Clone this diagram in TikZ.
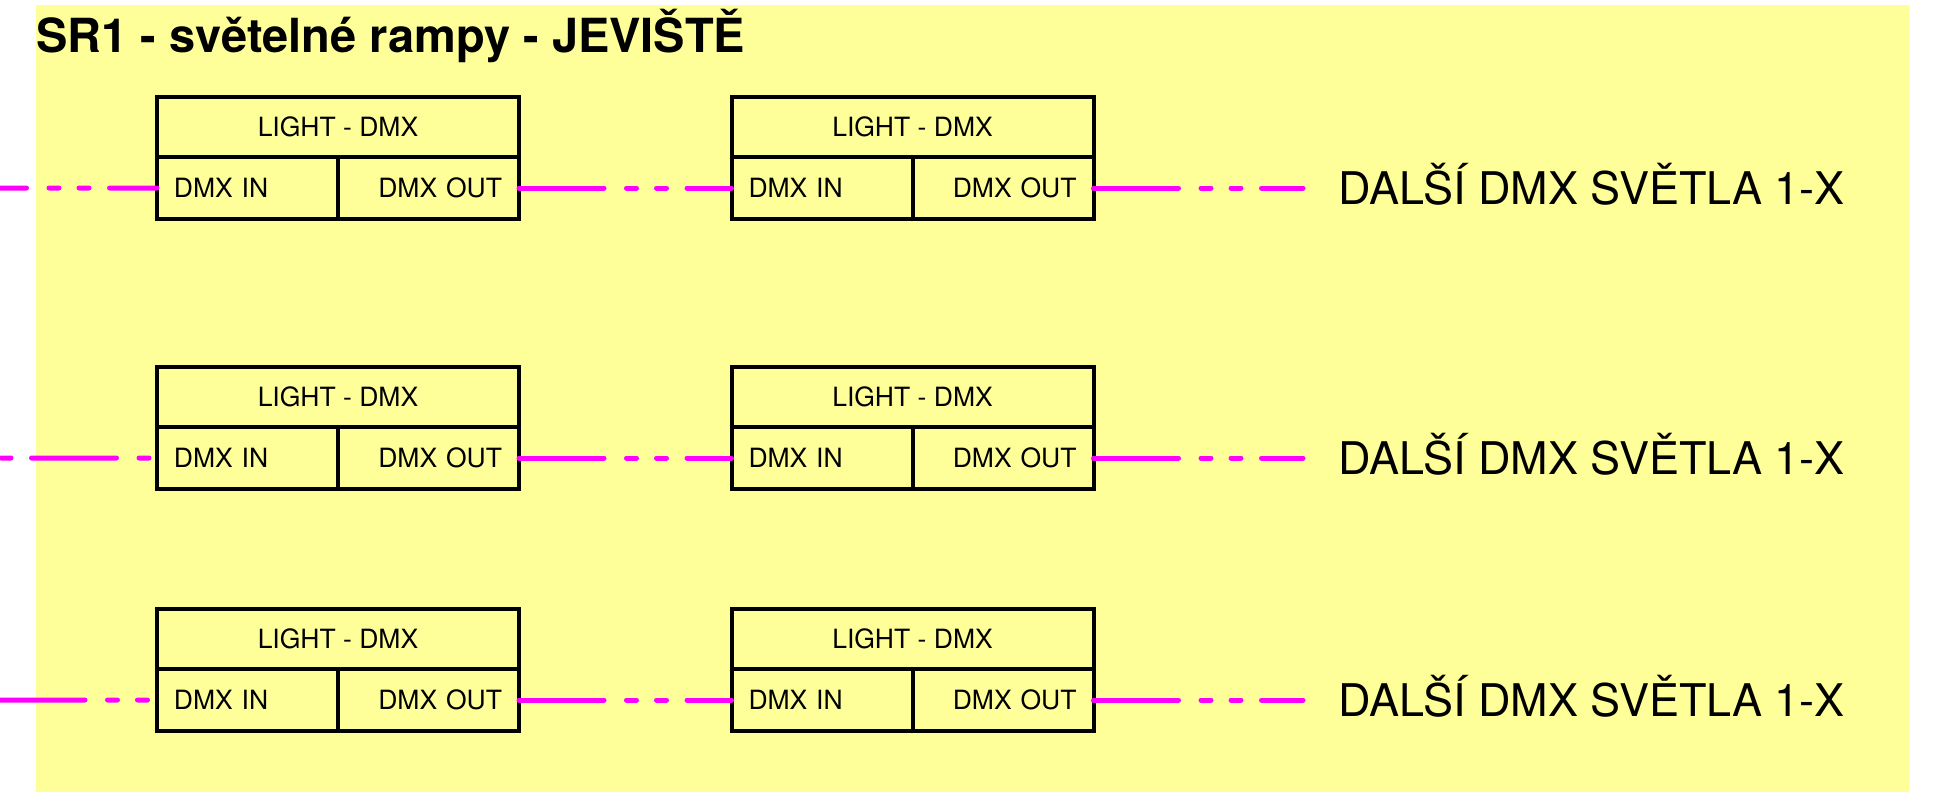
\documentclass[tikz,border=0pt]{standalone}
\usepackage{fontspec}
\setmainfont{TeX Gyre Heros}
\usetikzlibrary{positioning}
\definecolor{stageyellow}{HTML}{FFFF99}
\definecolor{dmxmagenta}{HTML}{FF00FF}

\begin{document}
\begin{tikzpicture}[
		x=0.4pt, y=-0.4pt,
		node distance=0pt,
		head/.style={draw, line width=1.6pt, outer sep=0pt, inner sep=0pt,
			minimum width=144.8pt, minimum height=24pt, font=\fontsize{10.6}{12}\selectfont},
		port/.style={draw, line width=1.6pt, outer sep=0pt, inner xsep=6.8pt, inner ysep=0pt,
			text width=58.8pt, minimum height=24.8pt, font=\fontsize{10.6}{12}\selectfont},
		dmx/.style={dmxmagenta, line width=2pt, line cap=round,
			dash pattern=on 34pt off 9pt on 4pt off 8pt on 4pt off 8.2pt},
		more/.style={font=\fontsize{18}{21}\selectfont, inner sep=0pt, anchor=base west},
	]
		\useasboundingbox (0,0) rectangle (1940,809);
		\fill[stageyellow] (36,5) rectangle (1909,792);
		\node[font=\fontsize{18.8}{22}\selectfont\bfseries, inner sep=0pt, anchor=base west] (title) at (36,52) {SR1 - světelné rampy - JEVIŠTĚ};

		% row 1
		\node[head] (light1a) at (338,127) {LIGHT - DMX};
		\node[port, align=left, below right=of light1a.south west] (in1a) {DMX IN};
		\node[port, align=right, below left=of light1a.south east] (out1a) {DMX OUT};
		\node[head] (light1b) at (912.5,127) {LIGHT - DMX};
		\node[port, align=left, below right=of light1b.south west] (in1b) {DMX IN};
		\node[port, align=right, below left=of light1b.south east] (out1b) {DMX OUT};
		\coordinate (feed1) at (0,188);
		\coordinate[right=83.8pt of out1b.east] (end1);
		\node[more] (next1) at (1338,204) {DALŠÍ DMX SVĚTLA 1-X};

		% row 2
		\node[head] (light2a) at (338,397) {LIGHT - DMX};
		\node[port, align=left, below right=of light2a.south west] (in2a) {DMX IN};
		\node[port, align=right, below left=of light2a.south east] (out2a) {DMX OUT};
		\node[head] (light2b) at (912.5,397) {LIGHT - DMX};
		\node[port, align=left, below right=of light2b.south west] (in2b) {DMX IN};
		\node[port, align=right, below left=of light2b.south east] (out2b) {DMX OUT};
		\coordinate (feed2) at (0,458);
		\coordinate[right=83.8pt of out2b.east] (end2);
		\node[more] (next2) at (1338,474) {DALŠÍ DMX SVĚTLA 1-X};

		% row 3
		\node[head] (light3a) at (338,639) {LIGHT - DMX};
		\node[port, align=left, below right=of light3a.south west] (in3a) {DMX IN};
		\node[port, align=right, below left=of light3a.south east] (out3a) {DMX OUT};
		\node[head] (light3b) at (912.5,639) {LIGHT - DMX};
		\node[port, align=left, below right=of light3b.south west] (in3b) {DMX IN};
		\node[port, align=right, below left=of light3b.south east] (out3b) {DMX OUT};
		\coordinate (feed3) at (0,700);
		\coordinate[right=83.8pt of out3b.east] (end3);
		\node[more] (next3) at (1338,716) {DALŠÍ DMX SVĚTLA 1-X};

		\draw[dmx, dash phase=23.4pt] (feed1) -- (in1a.west);
		\draw[dmx] (out1a.east) -- (in1b.west);
		\draw[dmx] (out1b.east) -- (end1);
		\draw[dmx, dash phase=54.6pt] (feed2) -- (in2a.west);
		\draw[dmx] (out2a.east) -- (in2b.west);
		\draw[dmx] (out2b.east) -- (end2);
		\draw[dmx] (feed3) -- (in3a.west);
		\draw[dmx] (out3a.east) -- (in3b.west);
		\draw[dmx] (out3b.east) -- (end3);
	\end{tikzpicture}
\end{document}
